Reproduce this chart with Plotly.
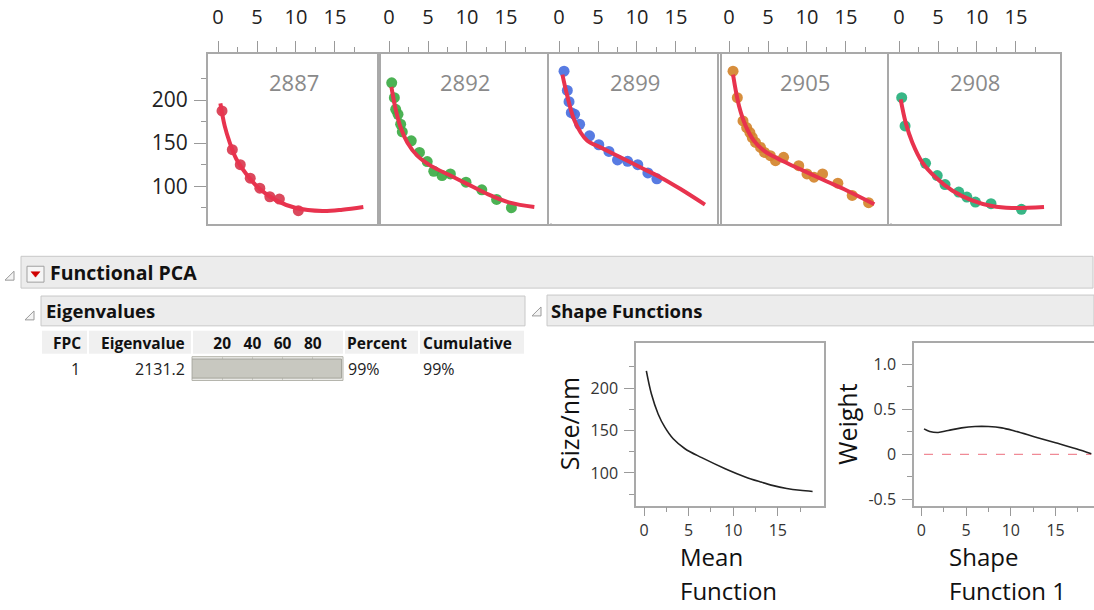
import plotly.graph_objects as go

W, H = 1094, 610
FONT = "Open Sans"

# ---------------- data ----------------
panel_ids = ["2887", "2892", "2899", "2905", "2908"]
point_colors = ["#d8394f", "#3dab45", "#4a70e0", "#d4842c", "#27b07c"]
fit_color = "#e8334e"

obs_x_2887 = [0.51, 1.83, 2.85, 4.13, 5.36, 6.64, 7.87, 10.3]
obs_y_2887 = [187.3, 142.3, 125.0, 109.2, 97.7, 87.7, 85.0, 71.5]
fit_x_2887 = [0.3, 0.85, 1.49, 2.34, 3.62, 5.32, 7.45, 10.0, 13.4, 15.96, 18.64]
fit_y_2887 = [196.2, 170.0, 150.8, 131.5, 114.2, 96.9, 83.5, 74.6, 71.2, 72.7, 75.8]

obs_x_2892 = [0.34, 0.68, 0.85, 1.15, 1.49, 1.70, 2.85, 3.90, 4.90, 5.74, 6.80, 7.87, 9.87, 11.9, 13.8, 15.7]
obs_y_2892 = [220.0, 202.7, 189.2, 183.5, 171.9, 163.1, 152.7, 139.2, 128.5, 117.3, 112.3, 114.2, 104.6, 95.8, 84.6, 75.0]
fit_x_2892 = [0.3, 0.85, 1.49, 2.34, 3.62, 5.32, 7.87, 10.0, 12.55, 15.5, 18.64]
fit_y_2892 = [215.4, 189.2, 168.1, 150.8, 135.4, 123.8, 112.3, 102.7, 91.2, 80.8, 75.8]

obs_x_2899 = [0.64, 1.06, 1.28, 1.57, 2.00, 2.64, 3.91, 5.10, 6.40, 7.50, 8.80, 10.1, 11.4, 12.55]
obs_y_2899 = [233.5, 211.2, 198.1, 185.4, 183.5, 171.9, 158.5, 148.1, 140.4, 130.4, 128.8, 125.0, 115.4, 108.5]
fit_x_2899 = [0.43, 1.06, 1.91, 2.77, 3.62, 5.32, 7.87, 10.43, 12.98, 15.53, 18.72]
fit_y_2899 = [229.6, 204.6, 177.7, 162.3, 152.7, 145.0, 133.5, 121.9, 110.4, 96.9, 78.5]

obs_x_2905 = [0.51, 1.06, 1.79, 2.26, 2.68, 2.98, 3.40, 4.04, 4.55, 5.30, 5.96, 7.00, 8.94, 10.0, 10.9, 12.0, 13.96, 15.8, 17.9]
obs_y_2905 = [233.5, 202.7, 175.8, 168.1, 162.3, 156.5, 150.8, 145.0, 139.2, 135.4, 129.6, 133.5, 123.8, 114.2, 110.4, 114.2, 103.5, 89.2, 80.8]
fit_x_2905 = [0.51, 1.28, 2.13, 3.19, 4.47, 6.17, 8.30, 10.43, 12.55, 15.1, 18.64]
fit_y_2905 = [229.6, 193.1, 170.0, 152.7, 141.2, 132.3, 123.1, 114.2, 105.4, 95.0, 79.0]

obs_x_2908 = [0.34, 0.77, 3.40, 4.90, 5.90, 7.66, 8.70, 9.80, 11.8, 15.7]
obs_y_2908 = [202.7, 170.0, 126.5, 112.3, 101.9, 93.1, 87.3, 81.5, 79.6, 73.1]
fit_x_2908 = [0.21, 0.85, 1.70, 2.98, 4.68, 6.81, 9.36, 11.9, 14.47, 18.6]
fit_y_2908 = [200.8, 173.8, 150.8, 127.7, 110.4, 95.0, 83.5, 76.9, 74.6, 75.8]

panel_obs_x = [obs_x_2887, obs_x_2892, obs_x_2899, obs_x_2905, obs_x_2908]
panel_obs_y = [obs_y_2887, obs_y_2892, obs_y_2899, obs_y_2905, obs_y_2908]
panel_fit_x = [fit_x_2887, fit_x_2892, fit_x_2899, fit_x_2905, fit_x_2908]
panel_fit_y = [fit_y_2887, fit_y_2892, fit_y_2899, fit_y_2905, fit_y_2908]

top_x_ticks = [0, 5, 10, 15]
top_x_minor = [2.5, 7.5, 12.5, 17.5]
top_y_ticks = [100, 150, 200]
top_y_minor = [75, 125, 175, 225]

# eigenvalue table
fpc = [1]
eigenvalues = [2131.2]
percent = [99]
cumulative = [99]
bar_ticks = [20, 40, 60, 80]

# shape functions
mean_x = [0.26, 0.83, 1.58, 2.33, 3.27, 4.59, 6.47, 9.1, 11.35, 13.0, 14.5, 16.0, 17.5, 18.9]
mean_y = [220.3, 193.0, 169.5, 153.9, 140.2, 128.5, 118.0, 105.0, 95.3, 89.6, 85.0, 81.7, 79.5, 78.1]
shape1_x = [0.3, 0.94, 1.88, 3.0, 4.5, 6.0, 7.5, 9.0, 10.5, 12.8, 15.0, 17.3, 19.0]
shape1_y = [0.283, 0.254, 0.243, 0.265, 0.294, 0.309, 0.309, 0.294, 0.257, 0.191, 0.129, 0.0625, 0.007]
zero_x = [0.3, 19.0]
zero_y = [0, 0]
mean_y_ticks = [100, 150, 200]
mean_y_minor = [75, 125, 175, 225]
w_y_ticks = [-0.5, 0, 0.5, 1.0]
w_y_text = ["-0.5", "0", "0.5", "1.0"]
w_y_minor = [-0.25, 0.25, 0.75]

# ---------------- helpers ----------------
def px(x):
    return x / W

def py(y):
    return 1 - y / H

fig = go.Figure()
layout = dict(
    width=W, height=H, margin=dict(l=0, r=0, t=0, b=0),
    paper_bgcolor="white", plot_bgcolor="white", showlegend=False,
    font=dict(family=FONT, color="#222"),
)
annotations = []
shapes = []

AX_LINE = "#a9a9a9"
TICK_C = "#9a9a9a"

# ---------------- top panels ----------------
lefts = [208, 379, 549, 719, 889]
for i in range(5):
    k = i + 1
    xa = "x" if k == 1 else f"x{k}"
    ya = "y" if k == 1 else f"y{k}"
    l = lefts[i]
    r = l + 171
    layout["xaxis" if k == 1 else f"xaxis{k}"] = dict(
        domain=[px(l), px(r)], range=[-1.29, 20.65], anchor=ya, side="top",
        tickvals=top_x_ticks, ticks="outside", ticklen=11, tickcolor=TICK_C, tickwidth=1,
        minor=dict(tickvals=top_x_minor, ticks="outside", ticklen=5, tickcolor=TICK_C),
        showline=True, linecolor=AX_LINE, linewidth=2, mirror=True,
        showgrid=False, zeroline=False, tickfont=dict(size=20, color="#222"),
        ticklabelstandoff=9,
    )
    ydict = dict(
        domain=[py(225), py(54)], range=[56.6, 253.9], anchor=xa,
        showline=True, linecolor=AX_LINE, linewidth=2, mirror=True,
        showgrid=False, zeroline=False,
    )
    if k == 1:
        ydict.update(tickvals=top_y_ticks, ticks="outside", ticklen=12, tickcolor=TICK_C,
                     minor=dict(tickvals=top_y_minor, ticks="outside", ticklen=5, tickcolor=TICK_C),
                     tickfont=dict(size=21, color="#222"), ticklabelstandoff=2)
    else:
        ydict.update(showticklabels=False, ticks="")
    layout["yaxis" if k == 1 else f"yaxis{k}"] = ydict

    fig.add_trace(go.Scatter(x=panel_obs_x[i], y=panel_obs_y[i], mode="markers", xaxis=xa, yaxis=ya,
                             marker=dict(size=11, color=point_colors[i], opacity=0.92), hoverinfo="skip"))
    fig.add_trace(go.Scatter(x=panel_fit_x[i], y=panel_fit_y[i], mode="lines", xaxis=xa, yaxis=ya,
                             line=dict(color=fit_color, width=4, shape="spline", smoothing=1.0),
                             hoverinfo="skip"))
    annotations.append(dict(text=panel_ids[i], x=px((l + r) / 2), y=py(82.5), xref="paper", yref="paper",
                            xanchor="center", yanchor="middle", showarrow=False,
                            font=dict(size=22, color="#8a8a8a")))

# ---------------- headers ----------------
HDR_FILL = "#ececec"
HDR_LINE = "#c8c8c8"
def rect(x0, y0, x1, y1, fill, line, lw=1):
    shapes.append(dict(type="rect", xref="paper", yref="paper", x0=px(x0), x1=px(x1), y0=py(y1), y1=py(y0),
                       fillcolor=fill, line=dict(color=line, width=lw), layer="below"))

def tri(xl, yb, s):
    path = f"M {px(xl)} {py(yb)} L {px(xl + s)} {py(yb)} L {px(xl + s)} {py(yb - s)} Z"
    shapes.append(dict(type="path", xref="paper", yref="paper", path=path,
                       fillcolor="#f4f4f4", line=dict(color="#9a9a9a", width=1)))

rect(21, 258, 1093, 290, HDR_FILL, HDR_LINE)
rect(41, 298, 525, 328, HDR_FILL, HDR_LINE)
rect(547, 297, 1094, 328, HDR_FILL, HDR_LINE)
tri(5, 282, 9)
tri(25, 322, 9)
tri(532, 318, 9)
# red dropdown button
shapes.append(dict(type="rect", xref="paper", yref="paper", x0=px(27), x1=px(44), y0=py(284), y1=py(268),
                   fillcolor="#f6f6f6", line=dict(color="#a0a0a0", width=1)))
shapes.append(dict(type="path", xref="paper", yref="paper",
                   path=f"M {px(31)} {py(273.5)} L {px(40)} {py(273.5)} L {px(35.5)} {py(279)} Z",
                   fillcolor="#d00000", line=dict(color="#d00000", width=0.5)))

def text(t, x, y, size, anchor="left", color="#111", bold=False):
    annotations.append(dict(text=(f"<b>{t}</b>" if bold else t), x=px(x), y=py(y), xref="paper", yref="paper",
                            xanchor=anchor, yanchor="middle", showarrow=False,
                            font=dict(size=size, color=color, family=FONT)))

text("Functional PCA", 48, 274.5, 19.5, bold=True)
text("Eigenvalues", 44, 313, 18.5, bold=True)
text("Shape Functions", 549, 313, 18.5, bold=True)

# table header cells
CELL = "#f0f0f0"
for x0, x1 in [(42, 87), (89, 191), (193, 343), (345, 418), (420, 524)]:
    rect(x0, 333, x1, 356, CELL, CELL, 0)
text("FPC", 83, 345, 15.5, anchor="right", bold=True)
text("Eigenvalue", 187, 345, 15.5, anchor="right", bold=True)
text("Percent", 345, 345, 15.5, bold=True)
text("Cumulative", 421, 345, 15.5, bold=True)
for j in range(len(fpc)):
    yrow = 371.5 + 25 * j
    text(str(fpc[j]), 82, yrow, 16, anchor="right", color="#222")
    text(f"{eigenvalues[j]:.1f}", 187, yrow, 16, anchor="right", color="#222")
    text(f"{percent[j]}%", 346, yrow, 16, color="#222")
    text(f"{cumulative[j]}%", 421, yrow, 16, color="#222")

# eigen bar frame
rect(192, 359, 343, 383, "#ebebe7", "#b5b5ad")
layout["xaxis8"] = dict(domain=[px(192), px(343)], range=[0, 100], anchor="y8", side="top",
                        tickvals=bar_ticks, ticks="", showline=False, zeroline=False,
                        showgrid=True, gridcolor="#c9c9c2", gridwidth=1,
                        tickfont=dict(size=15.5, color="#111", family=FONT, weight="bold"),
                        ticklabelstandoff=4)
layout["yaxis8"] = dict(domain=[py(383), py(359)], range=[-0.5, 0.5], anchor="x8", visible=False)
fig.add_trace(go.Bar(x=percent, y=[0] * len(percent), orientation="h", xaxis="x8", yaxis="y8", width=0.8,
                     marker=dict(color="#c8c8c0", line=dict(color="#a5a59d", width=1)), hoverinfo="skip"))

# ---------------- shape function plots ----------------
common_x = dict(ticks="outside", ticklen=9, tickcolor=TICK_C, tickvals=top_x_ticks,
                minor=dict(tickvals=top_x_minor, ticks="outside", ticklen=5, tickcolor=TICK_C),
                showline=True, linecolor=AX_LINE, linewidth=1.5, mirror=True,
                showgrid=False, zeroline=False, tickfont=dict(size=16, color="#333"), ticklabelstandoff=0)
layout["xaxis6"] = dict(domain=[px(636), px(824)], range=[-0.9, 20.18], anchor="y6", **common_x)
layout["yaxis6"] = dict(domain=[py(509), py(345)], range=[61.4, 253.5], anchor="x6",
                        tickvals=mean_y_ticks, ticks="outside", ticklen=10, tickcolor=TICK_C,
                        minor=dict(tickvals=mean_y_minor, ticks="outside", ticklen=5, tickcolor=TICK_C),
                        showline=True, linecolor=AX_LINE, linewidth=1.5, mirror=True,
                        showgrid=False, zeroline=False, tickfont=dict(size=16, color="#333"),
                        ticklabelstandoff=3)
layout["xaxis7"] = dict(domain=[px(914), 1.0], range=[-0.82, 19.3], anchor="y7", **common_x)
layout["yaxis7"] = dict(domain=[py(509), py(345)], range=[-0.57, 1.24], anchor="x7",
                        tickvals=w_y_ticks, ticktext=w_y_text, ticks="outside", ticklen=10, tickcolor=TICK_C,
                        minor=dict(tickvals=w_y_minor, ticks="outside", ticklen=5, tickcolor=TICK_C),
                        showline=True, linecolor=AX_LINE, linewidth=1.5, mirror=False,
                        showgrid=False, zeroline=False, tickfont=dict(size=16, color="#333"),
                        ticklabelstandoff=3)

fig.add_trace(go.Scatter(x=mean_x, y=mean_y, mode="lines", xaxis="x6", yaxis="y6",
                         line=dict(color="#222", width=1.6, shape="spline", smoothing=1.0), hoverinfo="skip"))
fig.add_trace(go.Scatter(x=zero_x, y=zero_y, mode="lines", xaxis="x7", yaxis="y7",
                         line=dict(color="#f08a96", width=1.3, dash="dash"), hoverinfo="skip"))
fig.add_trace(go.Scatter(x=shape1_x, y=shape1_y, mode="lines", xaxis="x7", yaxis="y7",
                         line=dict(color="#222", width=1.6, shape="spline", smoothing=1.0), hoverinfo="skip"))

# axis titles
annotations.append(dict(text="Size/nm", x=px(569), y=py(427), xref="paper", yref="paper", textangle=-90,
                        showarrow=False, xanchor="center", yanchor="middle", font=dict(size=25, color="#111")))
annotations.append(dict(text="Weight", x=px(847), y=py(427.5), xref="paper", yref="paper", textangle=-90,
                        showarrow=False, xanchor="center", yanchor="middle", font=dict(size=25, color="#111")))
text("Mean", 678, 560, 24, color="#111")
text("Function", 678, 594, 24, color="#111")
text("Shape", 947, 560, 24, color="#111")
text("Function 1", 947, 594, 24, color="#111")

layout["annotations"] = annotations
layout["shapes"] = shapes
fig.update_layout(**layout)

fig.write_html("out.html", include_plotlyjs=True,
               post_script="document.body.style.margin='0';")
